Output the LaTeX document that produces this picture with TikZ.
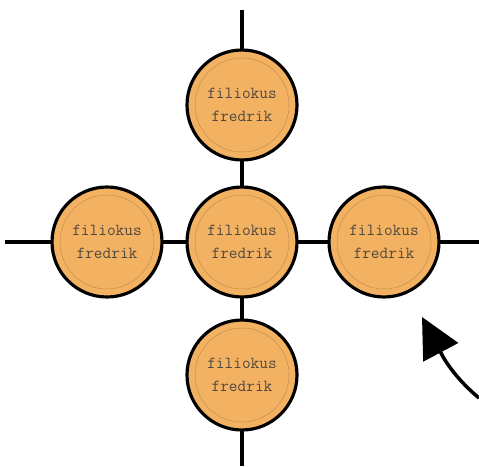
\documentclass[tikz,border=0pt]{standalone}
\usepackage{tikz}
\usetikzlibrary{shapes.misc, shapes, arrows.meta}
\usetikzlibrary{positioning}

\definecolor{coinorange}{RGB}{243,178,98}
\definecolor{coinink}{RGB}{80,72,64}

\begin{document}
\begin{tikzpicture}[x=0.05cm, y=-0.05cm,
		member/.style={circle, draw=black, line width=4.5pt, fill=coinorange, minimum size=5.5cm,
			align=center, text=coinink, font=\ttfamily\fontsize{24}{33}\selectfont},
		link/.style={draw=black, line width=4.5pt}]
		\useasboundingbox (0,0) rectangle (479,466);

		% Define the macro.
		% 1st argument: name of the member node.
		% 2nd argument: position of the member node.
		\newcommand{\memberCoin}[2]{
			\node[member] (#1) at #2 {filiokus\\fredrik};
			\draw[coinorange!80!black, line width=0.7pt] (#1.center) circle (2.35cm); % faint inner ring
		}

		% Loose ends of the links
		\coordinate (topend) at (242,10);
		\coordinate (bottomend) at (242,466);
		\coordinate (leftend) at (5,242);
		\coordinate (rightend) at (479,242);

		% Links (drawn first, coins go on top)
		\draw[link] (topend) -- (242,105);
		\draw[link] (242,105) -- (242,375);
		\draw[link] (242,375) -- (bottomend);
		\draw[link] (leftend) -- (rightend);

		% Coins
		\memberCoin{top}{(242,105)}
		\memberCoin{middle}{(242,242)}
		\memberCoin{bottom}{(242,375)}
		\memberCoin{left}{(107,242)}
		\memberCoin{right}{(384,242)}

		% Arrow
		\coordinate (arrowstart) at (479,398);
		\coordinate (arrowtip) at (422,317);
		\draw[line width=5pt, -{Triangle[length=2cm, width=1.95cm]}]
			(arrowstart) to[out=140, in=-62] (arrowtip);

	\end{tikzpicture}
\end{document}
